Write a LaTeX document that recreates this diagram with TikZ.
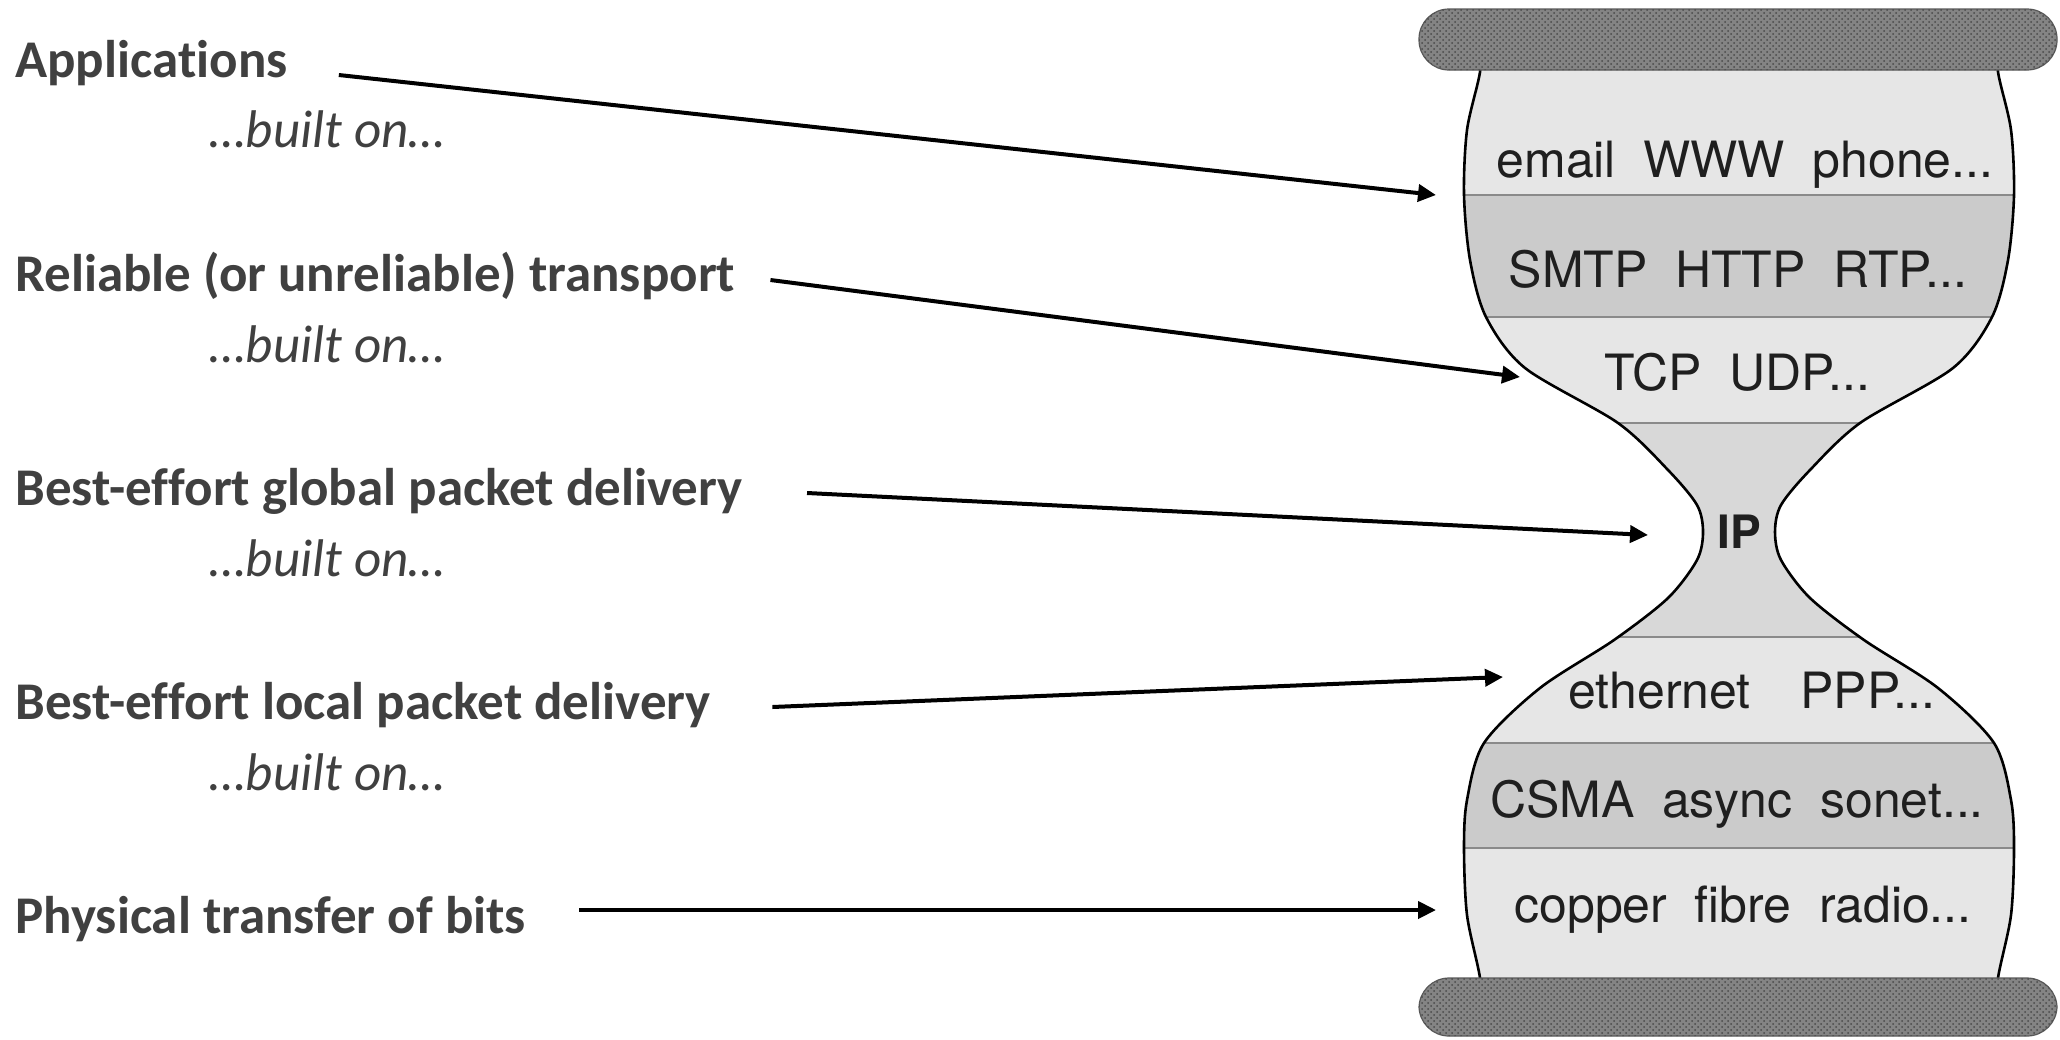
\documentclass[tikz,border=0pt]{standalone}
\usepackage{fontspec}
\setmainfont{Carlito}[Ligatures=NoCommon]
\newfontfamily\hgfont{TeX Gyre Heros}
\usetikzlibrary{arrows.meta,patterns}
\definecolor{txtgray}{HTML}{404040}
\definecolor{hglight}{HTML}{E6E6E6}
\definecolor{hgdark}{HTML}{CBCBCB}
\definecolor{hgmid}{HTML}{D8D8D8}
\definecolor{hgsep}{HTML}{8A8A8A}
\definecolor{barfill}{HTML}{848484}
\definecolor{bardot}{HTML}{4A4A4A}
\newcommand{\hgsp}{\hspace{.55em}}
\newcommand{\hgdots}{...}
% outline of the hourglass, left side down and right side up
\newcommand{\hgpath}{plot[smooth] coordinates {(1480,40) (1480,72) (1467,130) (1464,195) (1470,260) (1486,317) (1525,368) (1618,423) (1668,470) (1697,505) (1703,532) (1697,560) (1668,598) (1614,640) (1540,688) (1484,743) (1467,800) (1464,848) (1467,915) (1480,978) (1480,1010)}
 -- plot[smooth] coordinates {(1998,1010) (1998,978) (2011,915) (2014,848) (2011,800) (1994,743) (1938,688) (1864,640) (1810,598) (1781,560) (1775,532) (1781,505) (1810,470) (1860,423) (1953,368) (1992,317) (2008,260) (2014,195) (2011,130) (1998,72) (1998,40)} -- cycle}

\begin{document}
\begin{tikzpicture}[x=0.5pt,y=-0.5pt,
   lbl/.style={anchor=base west,inner sep=0pt,text=txtgray,font=\fontsize{26.5}{30}\selectfont\bfseries},
   built/.style={anchor=base west,inner sep=0pt,text=txtgray,font=\fontsize{26.5}{30}\selectfont\itshape},
   layer/.style={anchor=base,inner sep=0pt,text=black!88,font=\hgfont\fontsize{25}{28}\selectfont},
   link/.style={line width=2pt,-{Triangle[length=9pt,width=8.5pt]}},
   bar/.style={draw=black!65,line width=0.6pt,fill=barfill,rounded corners=15pt,
      postaction={pattern=crosshatch dots,pattern color=bardot}}]
\useasboundingbox (0,0) rectangle (2060,1039);

% left column
\foreach \n/\y/\t in %
{app/77/Applications,trans/291/Reliable (or unreliable) transport,glob/505/Best-effort global packet delivery,loc/719/Best-effort local packet delivery,phys/933/Physical transfer of bits} {
   \node[lbl] (\n) at (15,\y) {\t};
}
\foreach \y in {147,362,576,790} {
   \node[built] (built\y) at (209,\y) {…built on…};
}

% hourglass
\begin{scope}
\clip \hgpath;
\foreach \ya/\yb/\c in %
{40/195/hglight,195/317/hgdark,317/423/hglight,423/637/hgmid,637/743/hglight,743/848/hgdark,848/1010/hglight} {
   \fill[\c] (1400,\ya) rectangle (2080,\yb);
}
\foreach \y in {195,317,423,637,743,848} {
   \draw[hgsep,line width=1.3pt] (1400,\y) -- (2080,\y);
}
\end{scope}
\draw[line width=1.3pt] \hgpath;
\draw[bar] (1419,9) rectangle (2057,70);
\draw[bar] (1419,978) rectangle (2057,1036);

\foreach \y/\x/\t [count=\i] in %
{177/1745/email\hgsp WWW\hgsp phone\hgdots,287/1738/SMTP\hgsp HTTP\hgsp RTP\hgdots,390/1737/TCP\hgsp UDP\hgdots,708/1752/ethernet\hspace{1em}PPP\hgdots,817/1737/CSMA\hgsp async\hgsp sonet\hgdots,922/1743/copper\hgsp fibre\hgsp radio\hgdots} {
   \node[layer] (layer\i) at (\x,\y) {\t};
}
\node[layer,anchor=center,font=\hgfont\bfseries\fontsize{23}{26}\selectfont] (ip) at (1739,532) {IP};

% arrow tips
\coordinate (hgapp) at (1436,195);
\coordinate (hgtrans) at (1520,377);
\coordinate (hgglob) at (1648,535);
\coordinate (hgloc) at (1503,677);
\coordinate (hgphys) at (1436,910);
\foreach \n/\dx/\dy in {app/51/-2,trans/35/-11,glob/64/-12,loc/61/-12,phys/53/-23} {
   \draw[link] ([shift={(\dx,\dy)}]\n.base east) -- (hg\n);
}
\end{tikzpicture}
\end{document}
